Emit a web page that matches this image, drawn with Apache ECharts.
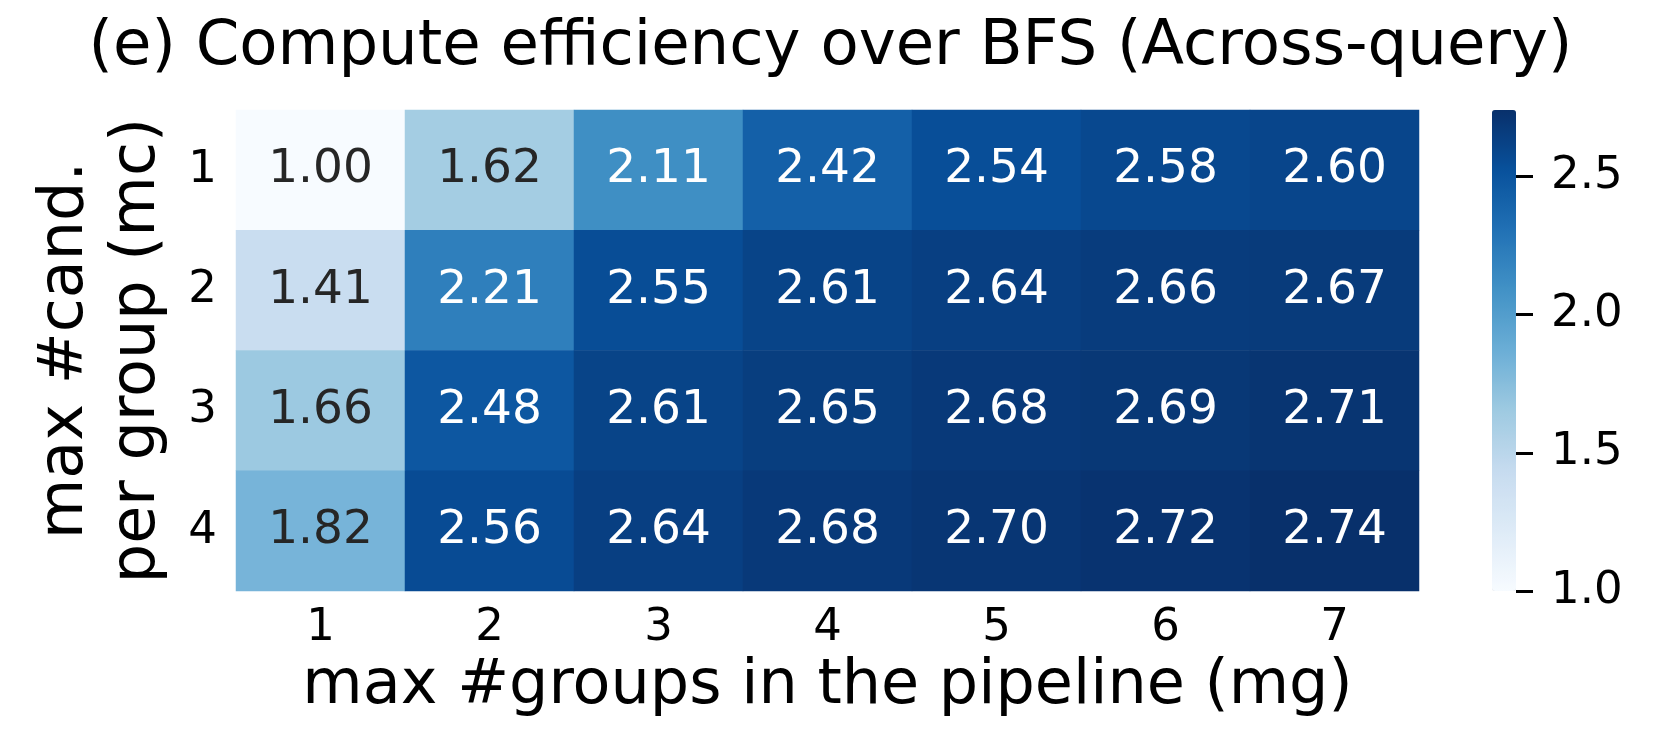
<!DOCTYPE html>
<html>
<head>
<meta charset="utf-8">
<script src="https://cdn.jsdelivr.net/npm/echarts@6/dist/echarts.min.js"></script>
<style>html,body{margin:0;padding:0;background:#fff;}#c{width:1661px;height:750px;}</style>
</head>
<body>
<div id="c"></div>
<script>
const mgLabels = ['1','2','3','4','5','6','7'];
const mcLabels = ['1','2','3','4'];
const row1 = [1.00, 1.62, 2.11, 2.42, 2.54, 2.58, 2.60];
const row2 = [1.41, 2.21, 2.55, 2.61, 2.64, 2.66, 2.67];
const row3 = [1.66, 2.48, 2.61, 2.65, 2.68, 2.69, 2.71];
const row4 = [1.82, 2.56, 2.64, 2.68, 2.70, 2.72, 2.74];
const colorbarTicks = [1.0, 1.5, 2.0, 2.5];
const vMin = 1.0, vMax = 2.74;

const rows = [row1, row2, row3, row4];
const data = [];
rows.forEach((r, yi) => r.forEach((v, xi) => {
  data.push({value: [xi, yi, v], label: {color: v < 2.0 ? '#262626' : '#ffffff'}});
}));

const FONT = 'DejaVu Sans';
const chart = echarts.init(document.getElementById('c'), null, {renderer: 'canvas'});
chart.setOption({
  animation: false,
  backgroundColor: '#ffffff',
  textStyle: {fontFamily: FONT},
  title: {
    text: '(e) Compute efficiency over BFS (Across-query)',
    left: 'center', top: 11,
    textStyle: {fontFamily: FONT, fontSize: 62.5, fontWeight: 'normal', color: '#000'}
  },
  grid: [
    {left: 236, top: 110, width: 1183, height: 481},
    {left: 1492, top: 110, width: 24, height: 481}
  ],
  xAxis: [
    {
      type: 'category', data: mgLabels, gridIndex: 0, position: 'bottom',
      name: 'max #groups in the pipeline (mg)', nameLocation: 'middle', nameGap: 53,
      nameTextStyle: {fontFamily: FONT, fontSize: 62, color: '#000'},
      axisLine: {show: false}, axisTick: {show: false}, splitLine: {show: false},
      axisLabel: {fontFamily: FONT, fontSize: 45, color: '#000', margin: 15}
    },
    {type: 'value', gridIndex: 1, show: false, min: 0, max: 1}
  ],
  yAxis: [
    {
      type: 'category', data: mcLabels, gridIndex: 0, inverse: true,
      name: 'max #cand.\nper group (mc)', nameLocation: 'middle', nameGap: 62, nameRotate: 90,
      nameTextStyle: {fontFamily: FONT, fontSize: 62, color: '#000', lineHeight: 72},
      axisLine: {show: false}, axisTick: {show: false}, splitLine: {show: false},
      axisLabel: {fontFamily: FONT, fontSize: 45, color: '#000', margin: 19}
    },
    {
      type: 'value', gridIndex: 1, position: 'right', min: vMin, max: vMax, interval: 0.5,
      axisLine: {show: false, onZero: false}, splitLine: {show: false},
      axisTick: {show: true, inside: false, length: 17, lineStyle: {color: '#000', width: 3},
        customValues: colorbarTicks},
      axisLabel: {fontFamily: FONT, fontSize: 45, color: '#000', margin: 35,
        customValues: colorbarTicks,
        formatter: v => v.toFixed(1)}
    }
  ],
  visualMap: {
    type: 'continuous', min: vMin, max: vMax, seriesIndex: 0,
    calculable: false, realtime: false, hoverLink: false,
    orient: 'vertical', left: 1492, top: 110, itemWidth: 24, itemHeight: 481,
    padding: 0, text: null, showLabel: false,
    inRange: {color: ['#f7fbff','#deebf7','#c6dbef','#9ecae1','#6baed6','#4292c6','#2171b5','#08519c','#08306b']}
  },
  series: [
    {
      type: 'heatmap', xAxisIndex: 0, yAxisIndex: 0, data: data,
      label: {show: true, fontFamily: FONT, fontSize: 47,
        formatter: p => p.value[2].toFixed(2)},
      itemStyle: {borderWidth: 0},
      emphasis: {disabled: true}
    },
    {type: 'line', xAxisIndex: 1, yAxisIndex: 1, data: [], silent: true}
  ]
});
</script>
</body>
</html>
